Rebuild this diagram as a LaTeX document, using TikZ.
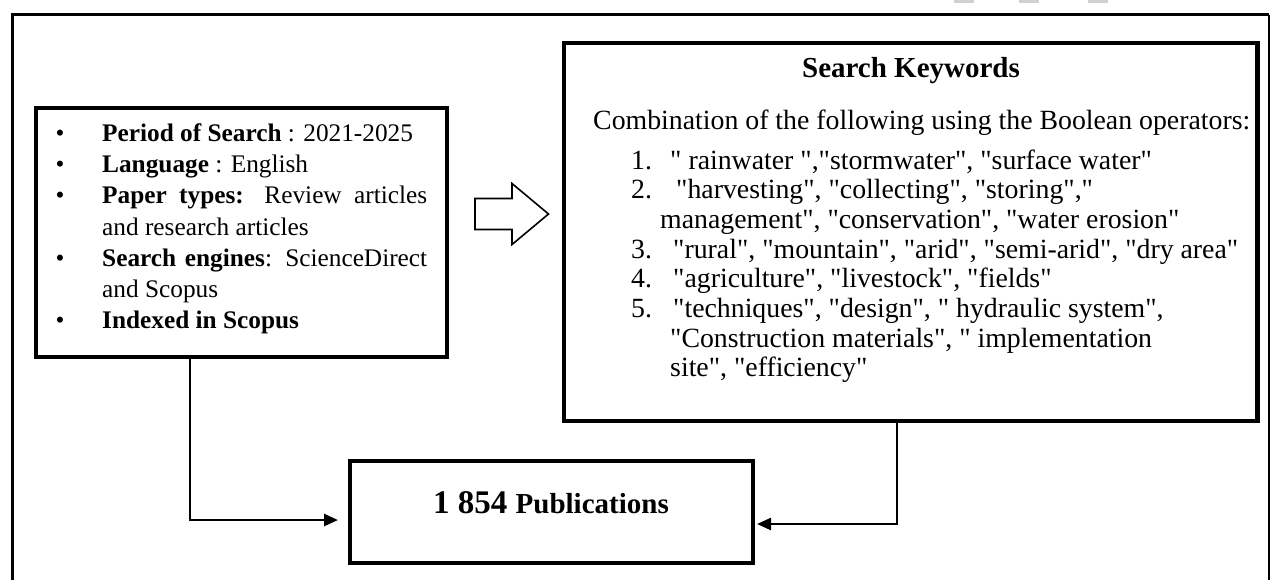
\documentclass[tikz,border=0pt]{standalone}
\usepackage{fontspec}
\setmainfont{Liberation Serif}
\usetikzlibrary{arrows.meta}
\newcommand\sdq{\XeTeXglyph\XeTeXcharglyph"0022\relax}
\begin{document}
\begin{tikzpicture}[x=1pt,y=-1pt,
  box/.style={draw, line width=4.5pt, inner sep=0pt, outer sep=0pt},
  conn/.style={line width=2.5pt, -{Triangle[length=14pt,width=12pt]}},
  ltxt/.style={anchor=base west, inner sep=0pt, font=\fontsize{25.3}{30}\selectfont},
  rtxt/.style={anchor=base west, inner sep=0pt, font=\fontsize{27.8}{30}\selectfont},
  bul/.style={anchor=base, inner sep=0pt, font=\fontsize{25.3}{30}\selectfont},
  artefact/.style={fill=black!18, draw=none},
]
\useasboundingbox (0,0) rectangle (1273,579);
% artefacts at top
\fill[artefact] (954,0) rectangle (974,3);
\fill[artefact] (1019,0) rectangle (1039,3);
\fill[artefact] (1088,0) rectangle (1108,3);
% outer frame
\draw[line width=3pt] (12,600) -- (12,14.5) -- (1269,14.5);
\draw[line width=1.6pt] (1269,14.5) -- (1269,600);

% boxes
\node[box, minimum width=411pt, minimum height=249pt] (lbox) at (241.5,232.5) {};
\node[box, minimum width=693.5pt, minimum height=378pt] (rbox) at (910.75,232) {};
\node[box, minimum width=403pt, minimum height=102pt] (pub) at (551.5,512) {};

% block arrow
\draw[line width=1.6pt, line join=miter] (475,198.5) -- (512,198.5) -- (512,183.5) -- (548.5,214) -- (512,244.5) -- (512,229.5) -- (475,229.5) -- cycle;

% left box text
\node[bul] (b1) at (60,141) {•};
\node[bul] (b2) at (60,172) {•};
\node[bul] (b3) at (60,203.5) {•};
\node[bul] (b5) at (60,266) {•};
\node[bul] (b7) at (60,328) {•};
\node[ltxt] (l1) at (102,141) {\textbf{Period of Search} : 2021-2025};
\node[ltxt] (l2) at (102,172) {\textbf{Language} : English};
\node[ltxt] (l3) at (102,203.5) {\makebox[325pt][s]{\textbf{Paper types:} Review articles}};
\node[ltxt] (l4) at (102,235) {and research articles};
\node[ltxt] (l5) at (102,266) {\makebox[325pt][s]{\textbf{Search engines}: ScienceDirect}};
\node[ltxt] (l6) at (102,297) {and Scopus};
\node[ltxt] (l7) at (102,328) {\textbf{Indexed in Scopus}};

% right box text
\node[anchor=base, inner sep=0pt, font=\fontsize{29}{30}\selectfont\bfseries] (title) at (911,77) {Search Keywords};
\node[rtxt] (comb) at (593,129) {Combination of the following using the Boolean operators:};
\node[rtxt] (n1) at (631,169) {1.};
\node[rtxt] (n2) at (631,198.7) {2.};
\node[rtxt] (n3) at (631,258.1) {3.};
\node[rtxt] (n4) at (631,287.8) {4.};
\node[rtxt] (n5) at (631,317.5) {5.};
\node[rtxt] (k1) at (670,169) {\sdq{} rainwater \sdq{},\sdq{}stormwater\sdq{}, \sdq{}surface water\sdq{}};
\node[rtxt] (k2) at (676,198.7) {\sdq{}harvesting\sdq{}, \sdq{}collecting\sdq{}, \sdq{}storing\sdq{},\sdq{}};
\node[rtxt] (k2b) at (660,228.4) {management\sdq{}, \sdq{}conservation\sdq{}, \sdq{}water erosion\sdq{}};
\node[rtxt] (k3) at (673,258.1) {\sdq{}rural\sdq{}, \sdq{}mountain\sdq{}, \sdq{}arid\sdq{}, \sdq{}semi-arid\sdq{}, \sdq{}dry area\sdq{}};
\node[rtxt] (k4) at (673,287.8) {\sdq{}agriculture\sdq{}, \sdq{}livestock\sdq{}, \sdq{}fields\sdq{}};
\node[rtxt] (k5) at (673,317.5) {\sdq{}techniques\sdq{}, \sdq{}design\sdq{}, \sdq{} hydraulic system\sdq{},};
\node[rtxt] (k5b) at (670,347.2) {\sdq{}Construction materials\sdq{}, \sdq{} implementation};
\node[rtxt] (k5c) at (670,376.9) {site\sdq{}, \sdq{}efficiency\sdq{}};

% publications text
\node[anchor=base, inner sep=0pt] (pubtxt) at (551,513) {\fontsize{33}{36}\selectfont\bfseries 1 854 \fontsize{29}{36}\selectfont Publications};

% connectors
\coordinate (lturn) at (190,520);
\coordinate (lend) at (338,520);
\coordinate (rturn) at (897,524);
\coordinate (rend) at (757,524);
\draw[conn] (lbox.south -| lturn) -- (lturn) -- (lend);
\draw[conn] (rbox.south -| rturn) -- (rturn) -- (rend);
\end{tikzpicture}
\end{document}
